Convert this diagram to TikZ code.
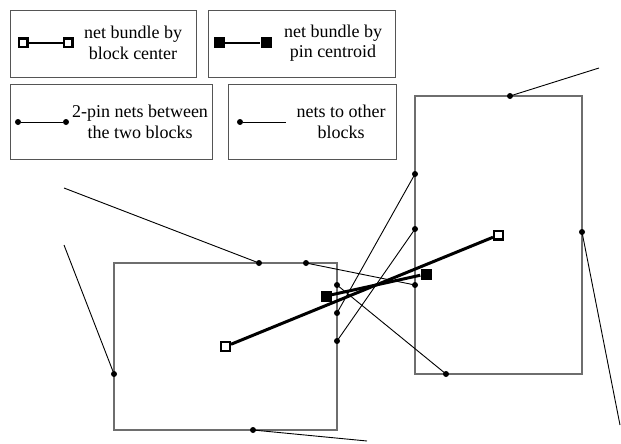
\documentclass[tikz,border=0pt]{standalone}
\usepackage{fontspec}
\setmainfont{Liberation Serif}
\usepackage{tikz}
\usetikzlibrary{positioning}
\definecolor{BlockGray}{HTML}{6E6E6E}
\definecolor{LegendGray}{HTML}{555555}

\begin{document}
\begin{tikzpicture}[x=1pt, y=-1pt,
		legendbox/.style={draw=LegendGray, line width=0.8pt, inner sep=0pt},
		legendtext/.style={align=center, font=\fontsize{18}{20.5}\selectfont, inner sep=0pt},
		block/.style={draw=BlockGray, line width=1.1pt, inner sep=0pt},
		pindot/.style={circle, fill=black, inner sep=0pt, minimum size=6pt},
		opensq/.style={draw=black, fill=white, line width=2.4pt, inner sep=0pt, minimum size=8.6pt},
		fullsq/.style={fill=black, inner sep=0pt, minimum size=11pt},
		net/.style={black, line width=0.9pt},
		bundle/.style={black, line width=3pt}
		]
		\useasboundingbox (0,0) rectangle (621,444);
		% legend
		\node[legendbox, minimum width=186pt, minimum height=67pt] (lg1) at (103,43.5) {};
		\node[legendbox, minimum width=187pt, minimum height=67pt] (lg2) at (301.5,43.5) {};
		\node[legendbox, minimum width=202pt, minimum height=75pt] (lg3) at (111,121.5) {};
		\node[legendbox, minimum width=168pt, minimum height=75pt] (lg4) at (312,121.5) {};
		\node[opensq] (l1a) at (23,43) {};
		\node[opensq] (l1b) at (68,43) {};
		\draw[bundle, line width=2.2pt] (l1a) -- (l1b);
		\node[legendtext] (t1) at (133,43) {net bundle by\\block center};
		\node[fullsq] (l2a) at (219,43) {};
		\node[fullsq] (l2b) at (266,43) {};
		\draw[bundle, line width=2.2pt] (l2a) -- (l2b);
		\node[legendtext] (t2) at (333,43) {net bundle by\\pin centroid};
		\node[pindot] (l3a) at (18,122) {};
		\node[pindot] (l3b) at (66,122) {};
		\draw[net] (l3a) -- (l3b);
		\node[legendtext] (t3) at (140,122) {2-pin nets between\\the two blocks};
		\node[pindot] (l4a) at (240,122) {};
		\coordinate (l4b) at (286,122);
		\draw[net] (l4a) -- (l4b);
		\node[legendtext] (t4) at (341,122) {nets to other\\blocks};
		% blocks
		\node[block, minimum width=223pt, minimum height=167pt] (blkA) at (225.5,346.5) {};
		\node[block, minimum width=167pt, minimum height=278pt] (blkB) at (498.5,235) {};
		% pins of block A
		\node[pindot] (a1) at (259,263) {};
		\node[pindot] (a2) at (306,263) {};
		\node[pindot] (a3) at (114,374) {};
		\node[pindot] (a4) at (253,430) {};
		\node[pindot] (a5) at (337,285) {};
		\node[pindot] (a6) at (337,313) {};
		\node[pindot] (a7) at (337,341) {};
		% pins of block B
		\node[pindot] (b1) at (510,96) {};
		\node[pindot] (b2) at (415,174) {};
		\node[pindot] (b3) at (415,229) {};
		\node[pindot] (b4) at (415,285) {};
		\node[pindot] (b5) at (446,374) {};
		\node[pindot] (b6) at (582,232) {};
		% nets to other blocks
		\coordinate (e1) at (64,188);
		\coordinate (e2) at (64,245);
		\coordinate (e3) at (367,441);
		\coordinate (e4) at (599,68);
		\coordinate (e5) at (620,425);
		\draw[net] (a1.center) -- (e1);
		\draw[net] (a3.center) -- (e2);
		\draw[net] (a4.center) -- (e3);
		\draw[net] (b1.center) -- (e4);
		\draw[net] (b6.center) -- (e5);
		% 2-pin nets
		\draw[net] (a2.center) -- (b4.center);
		\draw[net] (a5.center) -- (b5.center);
		\draw[net] (a6.center) -- (b2.center);
		\draw[net] (a7.center) -- (b3.center);
		% bundles
		\node[opensq] (ca) at (blkA.center) {};
		\node[opensq] (cb) at (blkB.center) {};
		\node[fullsq] (pa) at (326,296) {};
		\node[fullsq] (pb) at (426,274) {};
		\draw[bundle] (ca) -- (cb);
		\draw[bundle] (pa) -- (pb);
	\end{tikzpicture}
\end{document}
